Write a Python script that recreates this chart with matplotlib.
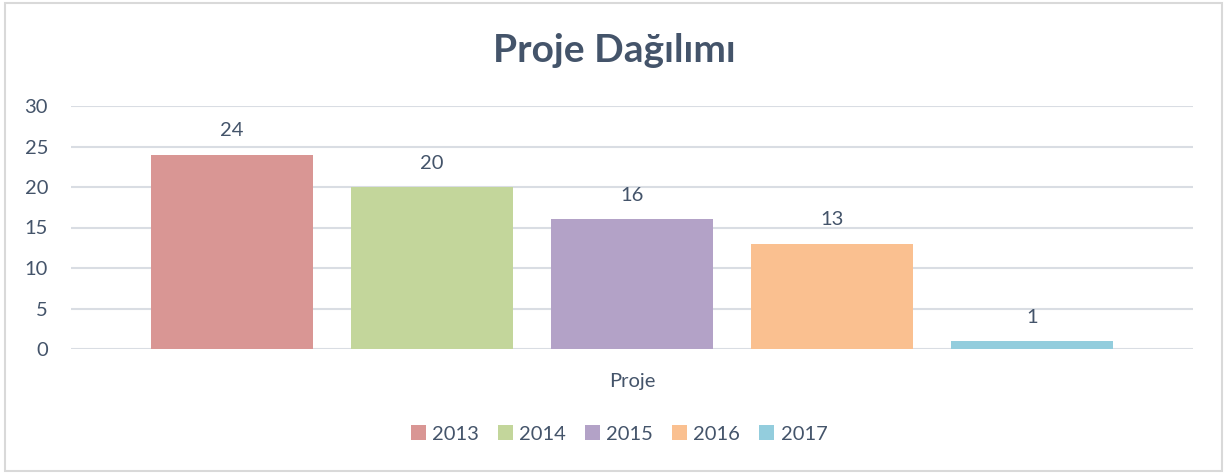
import matplotlib.pyplot as plt
from matplotlib.patches import Rectangle

# data
yillar = ["2013", "2014", "2015", "2016", "2017"]
degerler = [24, 20, 16, 13, 1]
renkler = ["#D99694", "#C3D69B", "#B3A2C7", "#FAC090", "#93CDDD"]
kategori = "Proje"
y_ticks = [0, 5, 10, 15, 20, 25, 30]

yazi_renk = "#44546A"
plt.rcParams['font.family'] = ['Lato', 'DejaVu Sans']

fig = plt.figure(figsize=(12.27, 4.74), dpi=100)
ax = fig.add_axes([71 / 1227, 1 - 349 / 474, 1122 / 1227, 243 / 474])

aralik = 200 / 1122
genislik = 162 / 1122
for i, (yil, deger, renk) in enumerate(zip(yillar, degerler, renkler)):
    x = (i - 2) * aralik
    ax.bar(x, deger, width=genislik, color=renk, label=yil, zorder=3)
    ax.text(x, deger + 1.9, str(deger), ha="center", va="bottom",
            fontsize=14.5, color=yazi_renk)

ax.set_xlim(-0.5, 0.5)
ax.set_ylim(0, 30)
ax.set_yticks(y_ticks)
ax.set_xticks([])
ax.grid(axis="y", color="#D9DDE3", linewidth=1.5, zorder=0)
for s in ax.spines.values():
    s.set_visible(False)
ax.tick_params(axis="y", length=0, pad=16.5, labelsize=14.5, labelcolor=yazi_renk)

fig.text(632 / 1227, 1 - 381 / 474, kategori, ha="center", va="center",
         fontsize=14.5, color=yazi_renk)
fig.text(614 / 1227, 1 - 50 / 474, "Proje Dağılımı", ha="center", va="center",
         fontsize=28, fontweight="bold", color=yazi_renk)

leg = fig.legend(loc="center", bbox_to_anchor=(619 / 1227, 1 - 434 / 474), ncol=5,
                 frameon=False, fontsize=14.5, handlelength=0.75, handleheight=0.75,
                 handletextpad=0.3, columnspacing=0.95)
for t in leg.get_texts():
    t.set_color(yazi_renk)

fig.patches.append(Rectangle((5 / 1227, 3 / 474), 1217 / 1227, 468 / 474,
                             transform=fig.transFigure, fill=False,
                             edgecolor="#D9D9D9", linewidth=1.5))

fig.savefig("out.png", dpi=100)
